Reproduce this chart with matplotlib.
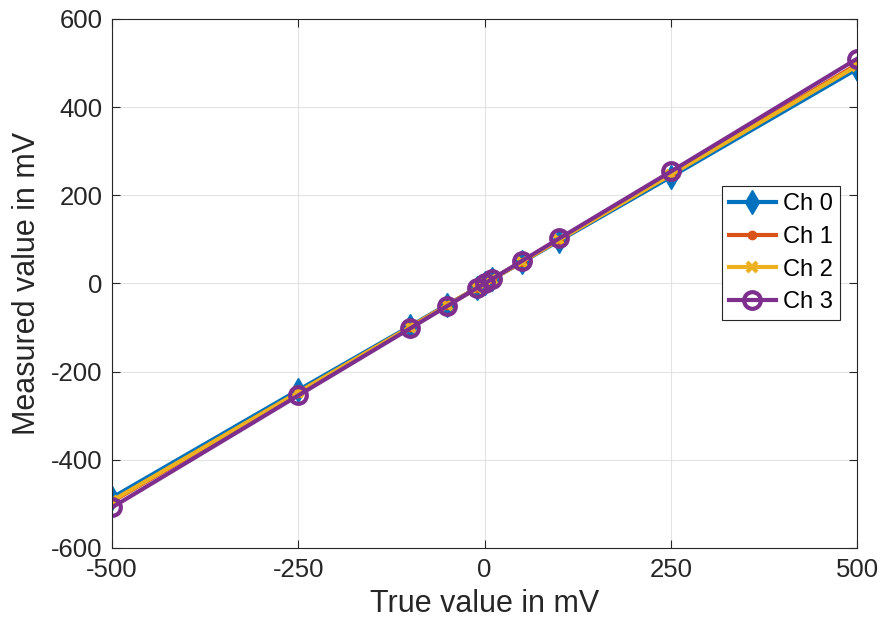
import matplotlib.pyplot as plt
import matplotlib as mpl

mpl.rcParams['font.family'] = ['Liberation Sans', 'DejaVu Sans']
mpl.rcParams['axes.unicode_minus'] = False

true_mv = [-500, -250, -100, -50, -10, 0, 10, 50, 100, 250, 500]
ch0 = [-486, -242, -97, -48, -10, 0, 10, 48, 97, 242, 487]
ch1 = [-495, -248, -99, -49, -10, 0, 10, 49, 99, 248, 497]
ch2 = [-493, -247, -99, -49, -10, 0, 10, 49, 99, 247, 494]
ch3 = [-508, -254, -102, -51, -10, 0, 10, 51, 102, 254, 510]
labels = ['Ch 0', 'Ch 1', 'Ch 2', 'Ch 3']
xticks = [-500, -250, 0, 250, 500]
yticks = [-600, -400, -200, 0, 200, 400, 600]

fig = plt.figure(figsize=(8.82, 6.32), dpi=100)
ax = fig.add_axes([0.127, 0.133, 0.845, 0.837])

ax.plot(true_mv, ch0, '-d', color='#0072BD', lw=3, ms=12, label=labels[0])
ax.plot(true_mv, ch1, '-o', color='#D95319', lw=3, ms=6, label=labels[1])
ax.plot(true_mv, ch2, '-x', color='#EDB120', lw=3, ms=7, mew=3, label=labels[2])
ax.plot(true_mv, ch3, '-o', color='#7E2F8E', lw=3, ms=12, mew=3, mfc='none', label=labels[3])

ax.set_xlim(-500, 500)
ax.set_ylim(-600, 600)
ax.set_xticks(xticks)
ax.set_yticks(yticks)
ax.grid(True, color='#e3e3e3', lw=0.8)
ax.set_axisbelow(True)
ax.tick_params(direction='in', labelsize=18.5, colors='#262626', length=6, pad=7,
               top=True, right=True)
for s in ax.spines.values():
    s.set_color('#262626')
ax.set_xlabel('True value in mV', fontsize=22, color='#262626', labelpad=5)
ax.set_ylabel('Measured value in mV', fontsize=22, color='#262626', labelpad=6)

leg = ax.legend(loc='center right', bbox_to_anchor=(0.9925, 0.557), fontsize=17,
                fancybox=False, edgecolor='#262626', framealpha=1,
                handlelength=2.0, borderpad=0.3, labelspacing=0.45, handletextpad=0.3)
leg.get_frame().set_linewidth(0.8)

plt.savefig('out.png')
